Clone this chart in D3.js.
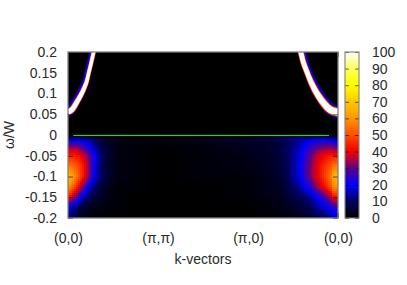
<!DOCTYPE html>
<html><head><meta charset="utf-8">
<script src="https://cdn.jsdelivr.net/npm/d3@7"></script>
<style>html,body{margin:0;padding:0;background:#fff}svg{display:block}text{font-family:"Liberation Sans",Arial,sans-serif;font-size:14px;fill:#2a2a2a}</style>
</head><body><svg id="c" width="407" height="285"></svg>
<script>
// k axis: 0=(0,0), 1=(pi,pi), 2=(pi,0), 3=(0,0)
const kTicks = [0,1,2,3];
const kLabels = ["(0,0)","(π,π)","(π,0)","(0,0)"];
const wTicks = [-0.2,-0.15,-0.1,-0.05,0,0.05,0.1,0.15,0.2];
const cTicks = [0,10,20,30,40,50,60,70,80,90,100];
const paletteStops = [0,5,10,15,20,25,30,35,40,50,60,70,80,90,100];
const paletteColors = ["#000000","#000030","#000060","#0000b0","#0000ff","#3000c0","#600080","#b00040","#f00000","#ff5000","#ff9800","#ffc800","#ffff00","#ffff60","#ffffff"];
// incoherent lower continuum
const kCols = [0,.044,.1,.144,.189,.233,.289,.356,.433,.544,.744,1,1.467,2,2.244,2.356,2.433,2.5,2.589,2.644,2.7,2.733,2.789,2.856,2.922,2.944,3];
const wRows = [-0.002,-0.01,-0.02,-0.035,-0.05,-0.075,-0.1,-0.125,-0.15,-0.175,-0.2];
const continuum = [
[4,4,4,4,3,3,2,1,1,0,0,0,1,2,3,4,5,5,5,5,5,5,5,5,5,4,3],
[14,14,14,14,13,11,9,6,4,2,1,1,2,4,7,9,11,13,14,15,15,16,16,16,16,15,13],
[26,26,25,24,21,18,13,8,4,2,1,1,2,4,4,6,8,11,15,19,22,24,25,26,26,24,22],
[36,37,36,32,28,23,16,10,5,2,1,0,1,3,5,7,10,13,18,23,26,29,32,34,35,34,33],
[44,44,42,40,36,30,22,12,6,2,1,0,1,2,4,6,9,13,19,25,30,33,38,41,43,43,43],
[56,54,50,46,40,32,20,11,5,2,1,0,1,2,4,6,9,13,20,27,32,36,41,46,51,55,57],
[68,63,55,47,40,31,20,11,6,2,1,0,1,1,3,5,8,13,20,27,32,36,41,48,56,64,68],
[60,54,44,36,27,19,11,6,3,1,1,0,0,1,3,4,7,10,15,20,25,30,36,42,50,57,60],
[43,38,28,20,13,9,6,4,2,1,0,0,0,1,2,3,5,7,9,11,14,17,21,28,35,41,43],
[20,15,9,6,4,3,2,2,1,1,0,0,0,0,1,2,3,4,6,7,9,11,14,17,21,24,26],
[14,10,6,4,3,2,1,1,1,0,0,0,0,0,1,1,1,2,3,4,5,6,8,10,13,15,17]];
// quasiparticle band centre
const leftK  = [0,0.045,0.1,0.161,0.206,0.233,0.26,0.29];
const leftW  = [0.0545,0.0615,0.08,0.104,0.128,0.152,0.176,0.205];
const rightK = [3,2.911,2.83,2.756,2.7,2.655,2.614,2.586,2.56];
const rightW = [0.0545,0.0615,0.08,0.104,0.128,0.152,0.176,0.2,0.215];
// band layers: half-thickness at the far end, intensity level, sideways shift toward k=0
const layerLevels = [12,22,40,60,100];
const layerWidthsLeft  = [3.5,2.9,2.3,2.0,1.7];
const layerWidthsRight = [4.4,3.7,3.1,2.7,2.3];
const layerShift = [1.2,0.8,0,0,0];
const bandSwell = [1.5,1];
const greenLineK = [0.058,2.9];

const svg = d3.select("#c");
const x = d3.scaleLinear([0,3],[68,338]);
const y = d3.scaleLinear([-0.2,0.2],[218,52]);
const color = d3.scaleLinear(paletteStops,paletteColors).clamp(true);

const defs = svg.append("defs");
defs.append("clipPath").attr("id","plot").append("rect").attr("x",68).attr("y",52).attr("width",270).attr("height",166);
defs.append("filter").attr("id","soft").append("feGaussianBlur").attr("stdDeviation",0.45);

const plot = svg.append("g").attr("clip-path","url(#plot)");
plot.append("rect").attr("x",68).attr("y",52).attr("width",270).attr("height",166).attr("fill","#000");

// continuum cells
const colIdx = d3.scaleLinear(kCols,d3.range(kCols.length)).clamp(true);
const rowIdx = d3.scaleLinear(wRows,d3.range(wRows.length)).clamp(true);
function value(k,w){
  const c=colIdx(k), r=rowIdx(w);
  const c0=Math.min(Math.floor(c),kCols.length-2), r0=Math.min(Math.floor(r),wRows.length-2);
  const a=c-c0,b=r-r0;
  return d3.interpolate(
    d3.interpolate(continuum[r0][c0],continuum[r0][c0+1])(a),
    d3.interpolate(continuum[r0+1][c0],continuum[r0+1][c0+1])(a))(b);
}
const dk=x.invert(70)-x.invert(68), dw=y.invert(135)-y.invert(137);
const cells=[];
for(const i of d3.range(135)) for(const j of d3.range(42)){
  const k=i*dk, w=-(j*dw);
  cells.push({k,w,v:value(k+dk/2,w-dw/2)});
}
plot.append("g").attr("shape-rendering","crispEdges").selectAll("rect").data(cells).join("rect")
  .attr("x",d=>x(d.k)).attr("y",d=>y(d.w)).attr("width",2).attr("height",2).attr("fill",d=>color(d.v));

// band: polygon offset around centre line
function ribbon(ks,ws,half,shift,side){
  const pts=d3.zip(ks,ws).map(([k,w])=>[x(k),y(w)]);
  const L=[],R=[];
  const tmp=document.createElementNS("http://www.w3.org/2000/svg","path");
  tmp.setAttribute("d",d3.line().curve(d3.curveCatmullRom)(pts));
  const len=tmp.getTotalLength();
  const swell=d3.scaleLinear([0,len*0.6],bandSwell).clamp(true);
  for(const s of d3.range(0,len+1,1.5)){
    const p=tmp.getPointAtLength(s),q=tmp.getPointAtLength(Math.min(s+1,len)),o=tmp.getPointAtLength(Math.max(s-1,0));
    const dx=q.x-o.x,dy=q.y-o.y,n=Math.hypot(dx,dy)||1,h=half*swell(s);
    const cx=p.x+side*shift, cy=p.y;
    L.push([cx-dy/n*h,cy+dx/n*h]);R.push([cx+dy/n*h,cy-dx/n*h]);
  }
  return d3.line()(L.concat(R.reverse()))+"Z";
}
[[leftK,leftW,layerWidthsLeft,-1],[rightK,rightW,layerWidthsRight,1]].forEach(([ks,ws,widths,side])=>{
  plot.append("g").attr("filter","url(#soft)").selectAll("path").data(layerLevels).join("path")
    .attr("d",(d,i)=>ribbon(ks,ws,widths[i],layerShift[i],side)).attr("fill",d=>color(d));
});

// zero line
plot.append("line").attr("x1",x(greenLineK[0])).attr("x2",x(greenLineK[1])).attr("y1",y(0)+0.5).attr("y2",y(0)+0.5)
  .attr("stroke","#00f000").attr("stroke-width",1);

// axes
const frame="#000";
function styleAxis(g){g.select(".domain").remove();g.selectAll("line").attr("stroke",frame).attr("stroke-opacity",0.6);}
svg.append("g").attr("transform","translate(68,0)").call(d3.axisLeft(y).tickValues(wTicks).tickSize(-5).tickPadding(11).tickFormat(d=>String(+d.toFixed(2)))).call(styleAxis);
svg.append("g").attr("transform","translate(338,0)").call(d3.axisRight(y).tickValues(wTicks).tickSize(-5).tickFormat("")).call(styleAxis);
svg.append("g").attr("transform","translate(0,218)").call(d3.axisBottom(x).tickValues(kTicks).tickSize(-5).tickPadding(15).tickFormat((d,i)=>kLabels[i])).call(styleAxis);
svg.append("g").attr("transform","translate(0,52)").call(d3.axisTop(x).tickValues(kTicks).tickSize(-5).tickFormat("")).call(styleAxis);
svg.append("rect").attr("x",68).attr("y",52).attr("width",270).attr("height",166).attr("fill","none").attr("stroke","#808080").attr("stroke-width",1.3);

// colour bar
const cy=d3.scaleLinear([0,100],[218,52]);
const levels=d3.range(0,100,0.6024);
svg.append("g").attr("shape-rendering","crispEdges").selectAll("rect").data(levels).join("rect")
  .attr("x",345).attr("width",14).attr("y",d=>cy(d)-1).attr("height",1.2).attr("fill",d=>color(d));
svg.append("g").attr("transform","translate(345,0)").call(d3.axisLeft(cy).tickValues(cTicks).tickSize(-4).tickFormat("")).call(styleAxis);
svg.append("g").attr("transform","translate(359,0)").call(d3.axisRight(cy).tickValues(cTicks).tickSize(-4).tickPadding(13).tickFormat(d=>d)).call(styleAxis);
svg.selectAll("g").filter(function(){return this.hasAttribute("font-family")}).attr("font-family",null).attr("font-size",null);
svg.append("rect").attr("x",345).attr("y",52).attr("width",14).attr("height",166).attr("fill","none").attr("stroke","#808080").attr("stroke-width",1.1);

// axis titles
svg.append("text").attr("x",203).attr("y",264).attr("text-anchor","middle").text("k-vectors");
svg.append("text").attr("transform","translate(14,135) rotate(-90)").attr("text-anchor","middle").text("ω/W");
</script></body></html>
